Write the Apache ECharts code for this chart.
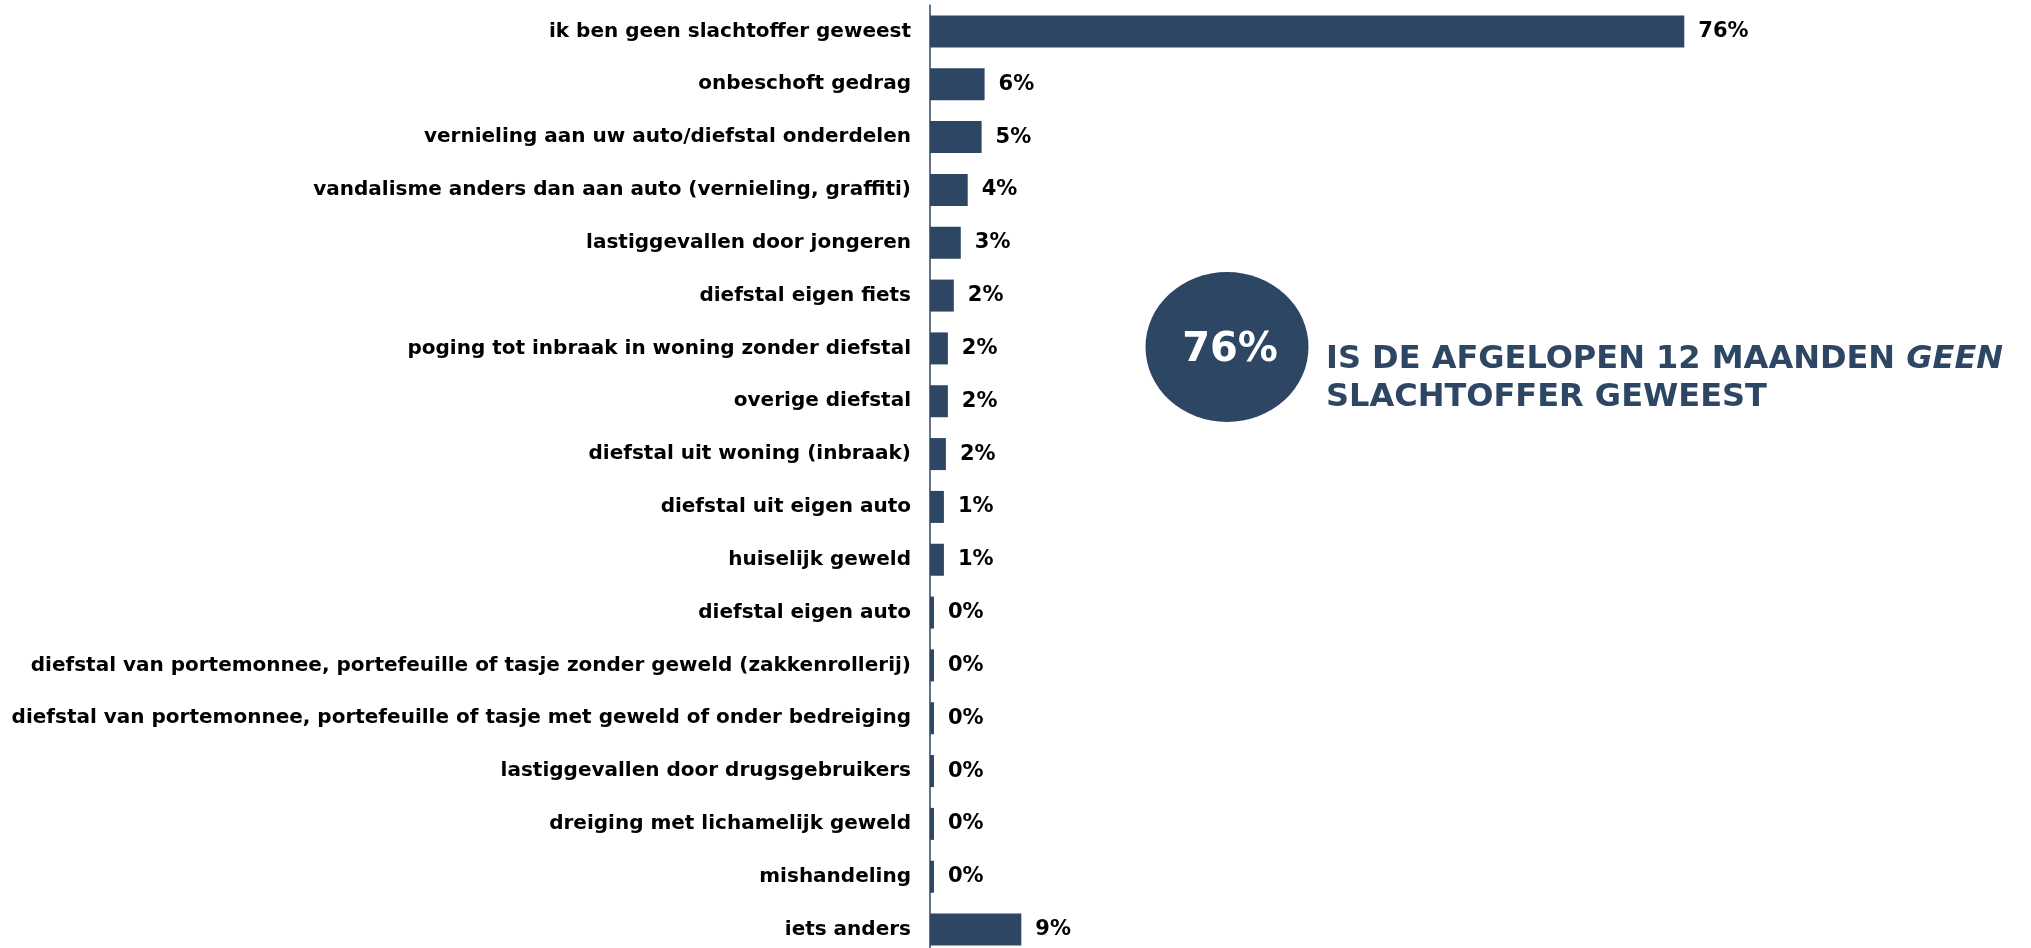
<!DOCTYPE html>
<html>
<head>
<meta charset="utf-8">
<title>Slachtofferschap</title>
<script src="https://cdn.jsdelivr.net/npm/echarts@6/dist/echarts.min.js"></script>
<style>
  html, body { margin: 0; padding: 0; background: #fff; }
  #chart { width: 2031px; height: 948px; }
</style>
</head>
<body>
<div id="chart"></div>
<script>
// categorieën, van boven naar beneden
const categories = [
  'ik ben geen slachtoffer geweest',
  'onbeschoft gedrag',
  'vernieling aan uw auto/diefstal onderdelen',
  'vandalisme anders dan aan auto (vernieling, graffiti)',
  'lastiggevallen door jongeren',
  'diefstal eigen fiets',
  'poging tot inbraak in woning zonder diefstal',
  'overige diefstal',
  'diefstal uit woning (inbraak)',
  'diefstal uit eigen auto',
  'huiselijk geweld',
  'diefstal eigen auto',
  'diefstal van portemonnee, portefeuille of tasje zonder geweld (zakkenrollerij)',
  'diefstal van portemonnee, portefeuille of tasje met geweld of onder bedreiging',
  'lastiggevallen door drugsgebruikers',
  'dreiging met lichamelijk geweld',
  'mishandeling',
  'iets anders'
]

const values = [76, 5.5, 5.2, 3.8, 3.1, 2.4, 1.8, 1.8, 1.6, 1.4, 1.4, 0.4, 0.4, 0.4, 0.4, 0.4, 0.4, 9.2]

const highlightValue = '76%'
const highlightLine1 = 'IS DE AFGELOPEN 12 MAANDEN '
const highlightItalic = 'GEEN'
const highlightLine2 = 'SLACHTOFFER GEWEEST'

const mainColor = '#2C4663'
const font = 'DejaVu Sans, Verdana, sans-serif'

const chart = echarts.init(document.getElementById('chart'))

chart.setOption({
  animation: false,
  textStyle: { fontFamily: font },
  grid: {
    left: 930,
    top: 5,
    height: 951,
    width: 794,
    containLabel: false,
    outerBoundsMode: 'none'
  },
  xAxis: {
    type: 'value',
    min: 0,
    max: 80,
    show: false
  },
  yAxis: {
    type: 'category',
    inverse: true,
    data: categories,
    axisLine: { show: true, lineStyle: { color: mainColor, width: 1.5 } },
    axisTick: { show: false },
    axisLabel: {
      color: '#000',
      fontSize: 20,
      fontWeight: 'bold',
      fontFamily: font,
      margin: 19
    }
  },
  series: [
    {
      type: 'bar',
      data: values,
      barWidth: 32,
      itemStyle: { color: mainColor },
      label: {
        show: true,
        position: 'right',
        distance: 14,
        color: '#000',
        fontSize: 21,
        fontWeight: 'bold',
        fontFamily: font,
        formatter: p => Math.round(p.value) + '%'
      }
    }
  ],
  graphic: [
    {
      type: 'circle',
      x: 1227,
      y: 347,
      scaleX: 163 / 150,
      shape: { cx: 0, cy: 0, r: 75 },
      style: { fill: mainColor }
    },
    {
      type: 'text',
      x: 1230,
      y: 351,
      style: {
        text: highlightValue,
        fill: '#fff',
        font: 'bold 40px ' + font,
        align: 'center',
        verticalAlign: 'middle'
      }
    },
    {
      type: 'text',
      x: 1326,
      y: 341,
      style: {
        text: '{n|' + highlightLine1 + '}{i|' + highlightItalic + '}\n{n|' + highlightLine2 + '}',
        align: 'left',
        verticalAlign: 'top',
        rich: {
          n: { fill: mainColor, fontSize: 32, fontWeight: 'bold', fontFamily: font, lineHeight: 38 },
          i: { fill: mainColor, fontSize: 32, fontWeight: 'bold', fontStyle: 'italic', fontFamily: font, lineHeight: 38 }
        }
      }
    }
  ]
})
</script>
</body>
</html>
